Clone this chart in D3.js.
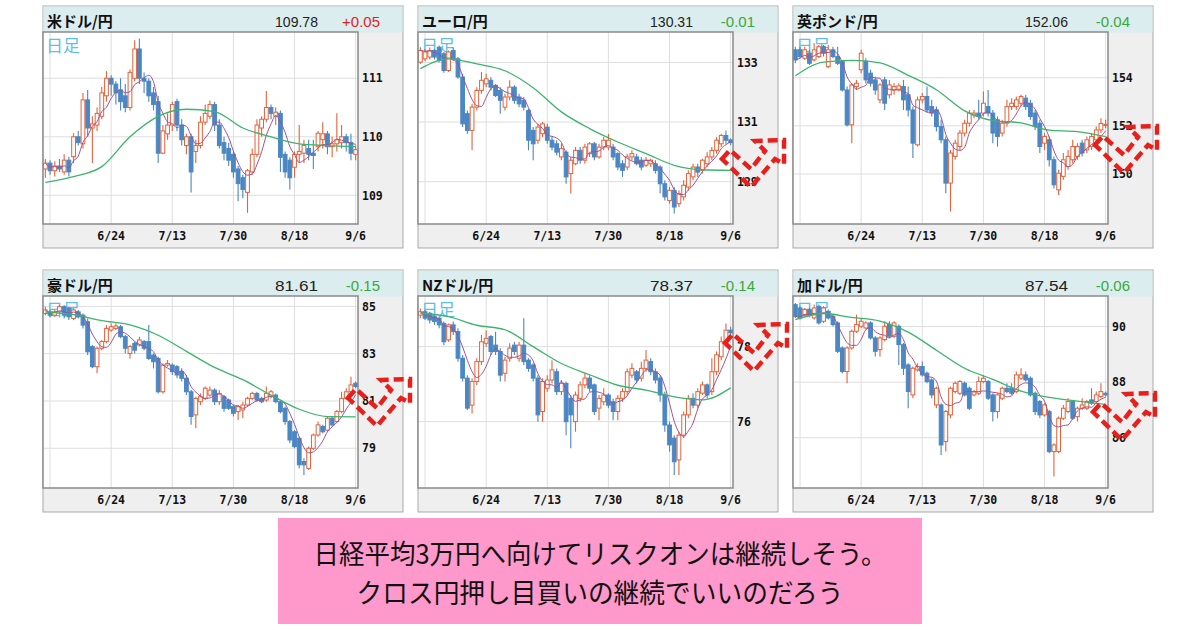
<!DOCTYPE html>
<html>
<head>
<meta charset="utf-8">
<script src="https://cdn.jsdelivr.net/npm/d3@7"></script>
<style>
  body { margin: 0; background: #fff; }
</style>
</head>
<body>
<div id="viz"></div>
<script>
// --- data ----------------------------------------------------------------
const pairNames  = ["米ドル/円", "ユーロ/円", "英ポンド/円", "豪ドル/円", "NZドル/円", "加ドル/円"];
const lastPrices = ["109.78", "130.31", "152.06", "81.61", "78.37", "87.54"];
const changes    = ["+0.05", "-0.01", "-0.04", "-0.15", "-0.14", "-0.06"];
const tickLabels = ["6/24", "7/13", "7/30", "8/18", "9/6"];
const gridDates  = ["6/7", "6/24", "7/13", "7/30", "8/18", "9/6"];
const yTicks  = [[109, 110, 111], [129, 131, 133], [150, 152, 154], [79, 81, 83, 85], [76, 78], [86, 88, 90]];
const yRanges = [[108.51, 111.79], [127.58, 134.02], [147.92, 155.9], [77.32, 85.44], [74.23, 79.35], [84.19, 91.1]];

// daily candles [open, high, low, close], 2021-06-04 .. 2021-09-06
const usdjpy = [
  [109.45,109.62,109.30,109.55],[109.55,109.60,109.35,109.42],[109.42,109.58,109.32,109.50],[109.50,109.62,109.40,109.45],
  [109.40,109.70,109.35,109.60],[109.60,109.66,109.32,109.40],[109.66,110.06,109.55,110.00],[110.00,110.10,109.85,109.90],
  [109.88,110.75,109.80,110.63],[110.63,110.80,110.00,110.15],[110.15,110.35,109.55,110.22],[110.20,110.50,110.10,110.40],
  [110.35,110.85,110.30,110.75],[110.70,111.12,110.60,111.00],[111.00,111.05,110.70,110.90],[110.90,110.95,110.55,110.75],
  [110.80,111.00,110.45,110.60],[110.70,110.90,110.42,110.50],[110.50,111.15,110.45,111.10],[111.00,111.65,110.95,111.50],
  [111.50,111.68,110.90,111.00],[111.00,111.10,110.75,110.95],[110.95,111.00,110.60,110.70],[110.75,110.85,110.45,110.55],
  [110.60,110.70,109.55,109.72],[109.72,110.20,109.70,110.10],[110.05,110.40,109.95,110.20],[110.20,110.60,110.10,110.55],
  [110.60,110.65,110.10,110.20],[110.20,110.30,109.85,109.95],[109.85,110.05,109.70,110.00],[110.00,110.05,109.05,109.40],
  [109.75,109.95,109.55,109.85],[109.85,110.35,109.80,110.25],[110.25,110.55,110.20,110.40],[110.35,110.62,110.30,110.55],
  [110.55,110.60,110.10,110.20],[110.20,110.30,109.80,109.85],[109.90,110.00,109.60,109.72],[109.80,109.90,109.50,109.60],
  [109.70,109.75,109.30,109.40],[109.45,109.50,108.90,109.20],[109.30,109.35,108.95,109.10],[109.05,109.45,108.70,109.42],
  [109.40,109.80,109.35,109.70],[109.70,110.30,109.65,110.20],[110.15,110.35,110.00,110.30],[110.30,110.78,110.25,110.50],
  [110.50,110.55,110.30,110.40],[110.35,110.50,110.20,110.42],[110.40,110.45,109.40,109.65],[109.70,109.75,109.30,109.40],
  [109.60,109.65,109.10,109.30],[109.48,109.75,109.30,109.70],[109.70,110.20,109.55,109.75],[109.72,109.95,109.55,109.85],
  [109.80,109.95,109.60,109.70],[109.72,109.95,109.45,109.68],[109.83,110.10,109.75,110.06],[109.95,110.25,109.80,110.05],
  [110.05,110.10,109.70,109.83],[109.83,110.00,109.65,109.88],[109.88,110.40,109.75,109.95],[109.90,110.20,109.80,110.00],
  [110.00,110.05,109.75,109.90],[109.90,110.05,109.60,109.72],[109.70,109.85,109.60,109.78]
];
const eurjpy = [
  [133.01,133.51,132.95,133.40],[133.12,133.45,133.05,133.35],[133.18,133.50,133.10,133.40],[133.40,133.45,133.10,133.18],
  [133.51,133.57,133.00,133.07],[133.29,133.35,132.65,132.73],[132.73,133.40,132.68,133.35],[133.40,133.51,133.05,133.12],
  [133.12,133.18,132.45,132.51],[132.51,132.62,130.83,130.94],[131.28,131.39,130.61,130.72],[130.72,131.61,130.05,131.50],
  [131.50,132.17,131.39,132.06],[132.06,132.68,131.95,132.40],[132.28,132.62,132.17,132.45],[132.40,132.51,132.06,132.17],
  [132.23,132.28,131.84,131.89],[132.06,132.17,131.28,131.73],[131.50,131.95,131.39,131.84],[131.84,132.40,131.73,132.17],
  [132.17,132.23,131.61,131.73],[131.84,131.95,131.50,131.61],[131.73,131.84,131.39,131.50],[131.39,131.45,130.05,130.39],
  [130.72,130.83,129.72,130.27],[130.39,130.94,130.27,130.83],[130.61,131.00,130.50,130.94],[130.83,130.94,130.27,130.39],
  [130.39,130.50,130.05,130.16],[130.27,130.39,129.88,129.99],[129.83,130.27,129.72,130.11],[129.99,130.05,128.93,129.16],
  [129.27,129.83,128.60,129.72],[129.60,130.16,129.55,130.05],[130.05,130.16,129.60,129.72],[129.72,130.27,129.60,130.16],
  [129.94,130.33,129.83,130.27],[130.27,130.33,129.72,129.83],[129.83,130.27,129.77,130.16],[130.16,130.50,130.05,130.39],
  [130.16,130.60,130.05,130.39],[130.16,130.27,129.72,129.83],[129.94,129.99,129.38,129.49],[129.60,129.72,129.16,129.38],
  [129.49,129.94,129.38,129.83],[129.83,130.05,129.72,129.94],[129.83,129.94,129.55,129.60],[129.72,129.83,129.38,129.49],
  [129.55,129.83,129.49,129.72],[129.60,129.77,129.49,129.72],[129.60,129.72,129.27,129.38],[129.49,129.55,128.60,128.93],
  [128.93,129.05,128.37,128.49],[128.37,128.82,128.26,128.71],[128.71,128.82,127.93,128.15],[128.26,128.71,128.15,128.60],
  [128.49,129.05,128.37,128.88],[128.82,129.38,128.71,129.27],[129.16,129.60,129.05,129.49],[129.49,129.60,129.16,129.32],
  [129.38,129.77,129.27,129.72],[129.60,129.99,129.49,129.83],[129.83,130.16,129.72,130.05],[130.05,130.50,129.94,130.39],
  [130.27,130.61,130.16,130.55],[130.55,130.72,130.27,130.39],[130.40,130.45,130.22,130.31]
];
const gbpjpy = [
  [155.16,155.29,154.60,154.74],[155.16,155.29,154.81,154.88],[154.81,155.29,154.74,155.16],[155.02,155.16,154.53,154.60],
  [154.74,155.43,154.67,155.16],[154.88,155.36,154.81,155.29],[155.29,155.36,154.88,155.02],[154.46,155.36,154.39,155.16],
  [155.16,155.29,154.81,154.88],[154.88,155.29,154.53,154.60],[154.67,154.74,153.43,153.49],[153.49,153.63,151.97,152.04],
  [152.04,153.77,151.28,153.70],[153.63,153.91,153.49,153.77],[154.33,155.16,154.19,155.02],[154.67,154.81,153.77,153.91],
  [154.19,154.33,153.63,153.77],[153.91,154.04,153.29,153.49],[153.08,153.77,152.94,153.70],[153.91,154.04,152.66,152.94],
  [153.29,153.91,153.15,153.70],[153.49,153.77,153.29,153.63],[153.49,153.77,153.43,153.66],[153.63,153.91,152.66,153.08],
  [153.29,153.63,152.39,152.66],[152.66,152.80,150.66,151.28],[151.21,153.22,151.14,153.08],[153.08,153.36,152.94,153.22],
  [153.22,153.63,152.53,152.66],[152.80,153.08,152.39,152.53],[152.66,152.80,151.76,151.97],[151.97,152.25,151.28,151.42],
  [151.42,151.56,149.20,149.62],[149.62,151.00,148.44,150.87],[150.73,151.42,150.59,151.28],[151.14,151.83,151.00,151.70],
  [151.70,152.25,151.56,152.11],[152.11,152.66,151.97,152.53],[152.46,152.66,152.32,152.53],[152.53,153.08,152.25,152.39],
  [152.53,153.43,152.39,152.94],[152.80,153.49,152.39,152.53],[152.53,152.66,151.28,151.70],[152.25,152.39,151.14,151.56],
  [151.70,152.25,151.56,152.11],[152.11,153.08,151.97,152.80],[152.80,153.15,152.66,152.94],[152.80,153.22,152.66,153.08],
  [152.94,153.29,152.80,153.22],[153.15,153.29,152.66,152.80],[152.94,153.08,152.25,152.39],[152.53,152.66,151.83,151.97],
  [152.11,152.25,150.87,151.14],[151.28,151.70,151.00,151.56],[151.42,151.56,150.31,150.59],[150.59,150.73,149.40,149.55],
  [149.34,150.17,149.13,150.03],[149.90,150.87,149.76,150.59],[150.31,151.00,150.17,150.73],[150.59,151.42,150.45,151.14],
  [150.73,151.28,150.59,151.14],[151.28,151.42,150.73,150.87],[151.00,151.56,150.87,151.42],[151.14,151.70,151.00,151.56],
  [151.42,151.97,151.28,151.83],[151.83,152.32,151.70,152.10],[152.03,152.25,151.90,152.06]
];
const audjpy = [
  [84.70,84.99,84.63,84.85],[84.77,84.85,84.56,84.63],[84.63,84.85,84.56,84.77],[84.77,85.06,84.70,84.99],
  [84.99,85.06,84.49,84.63],[84.92,84.99,84.42,84.56],[84.49,84.92,84.42,84.85],[84.77,84.85,84.49,84.56],
  [84.63,84.70,84.07,84.21],[84.35,84.49,82.94,83.08],[83.30,83.37,82.38,82.45],[82.45,83.30,82.17,83.23],
  [83.23,83.58,83.15,83.51],[83.51,84.21,83.44,84.07],[84.00,84.28,83.93,84.14],[84.07,84.28,84.00,84.17],
  [84.14,84.21,83.65,83.72],[83.72,83.79,83.01,83.23],[83.01,83.37,82.80,83.30],[83.44,83.51,83.01,83.15],
  [83.37,83.72,83.30,83.58],[83.51,83.58,83.15,83.23],[83.51,84.21,82.73,82.80],[82.94,83.01,82.38,82.66],
  [82.80,82.87,81.32,81.39],[81.39,82.59,81.32,82.52],[82.52,82.73,82.45,82.59],[82.52,82.59,82.10,82.24],
  [82.45,82.52,81.96,82.10],[82.24,82.38,81.82,81.96],[81.96,82.10,81.25,81.39],[81.39,81.46,79.99,80.34],
  [80.41,81.18,79.85,81.11],[80.97,81.32,80.83,81.18],[81.11,81.61,81.04,81.54],[81.25,81.61,81.18,81.46],
  [81.46,81.54,80.83,80.97],[80.97,81.46,80.83,81.32],[81.18,81.25,80.55,80.69],[81.04,81.11,80.62,80.69],
  [80.76,80.83,80.34,80.48],[80.55,80.83,80.20,80.76],[80.62,80.97,80.27,80.83],[80.83,81.18,80.76,81.11],
  [81.11,81.39,81.04,81.32],[81.32,81.39,80.97,81.04],[81.11,81.18,80.90,80.97],[81.04,81.61,80.97,81.32],
  [81.18,81.46,81.11,81.39],[81.25,81.32,80.90,80.97],[80.97,81.04,80.48,80.55],[80.69,80.76,79.99,80.13],
  [80.13,80.20,79.21,79.35],[79.70,79.77,79.00,79.07],[79.42,79.49,78.15,78.30],[78.44,78.58,77.87,78.30],
  [78.15,79.07,78.08,79.00],[79.00,79.63,78.93,79.56],[79.56,80.13,79.49,79.99],[79.92,79.99,79.63,79.70],
  [79.77,80.34,79.70,80.27],[80.27,80.34,79.92,79.99],[80.13,80.62,80.06,80.55],[80.55,81.39,80.48,81.11],
  [81.11,81.54,81.04,81.39],[81.39,82.03,81.32,81.68],[81.75,81.82,81.54,81.61]
];
const nzdjpy = [
  [78.84,79.02,78.76,78.93],[78.93,78.98,78.71,78.76],[78.89,78.93,78.62,78.71],[78.80,78.84,78.58,78.67],
  [78.76,78.80,78.49,78.58],[78.62,78.67,78.04,78.13],[78.18,78.62,78.13,78.58],[78.58,78.67,78.31,78.40],
  [78.40,78.49,77.60,77.69],[77.69,77.78,77.07,77.16],[77.16,77.24,76.31,76.36],[76.44,77.16,76.22,77.07],
  [77.07,77.69,76.98,77.60],[77.60,78.31,77.51,78.13],[78.09,78.44,78.00,78.22],[78.27,78.31,77.78,77.87],
  [78.04,78.40,77.78,77.87],[77.87,77.96,77.07,77.24],[77.29,77.73,77.07,77.64],[77.69,78.09,77.60,77.96],
  [78.04,78.13,77.78,77.87],[77.69,78.13,77.60,78.04],[78.04,78.76,77.51,77.60],[77.64,77.69,77.33,77.42],
  [77.51,77.56,77.07,77.16],[77.16,77.24,76.00,76.18],[76.27,77.16,76.00,77.07],[76.89,77.24,76.80,77.11],
  [77.11,77.64,77.02,77.38],[77.33,77.42,76.71,76.80],[76.80,77.11,76.71,77.02],[77.02,77.07,75.64,76.00],
  [76.62,76.71,75.29,76.18],[76.00,76.80,75.73,76.71],[76.62,77.07,76.53,76.98],[76.98,77.29,76.89,77.16],
  [77.16,77.24,76.80,76.89],[76.98,77.02,76.18,76.27],[76.36,76.71,76.04,76.62],[76.53,76.89,76.44,76.71],
  [76.71,76.76,76.36,76.44],[76.53,76.62,76.04,76.27],[76.27,76.71,76.04,76.62],[76.62,76.89,76.53,76.80],
  [76.80,77.42,76.71,77.33],[77.24,77.56,77.16,77.42],[77.33,77.38,77.02,77.11],[77.16,77.60,77.07,77.42],
  [77.42,77.91,77.33,77.64],[77.60,77.69,77.24,77.33],[77.33,77.42,77.02,77.11],[77.16,77.24,76.53,76.71],
  [76.71,76.80,75.73,75.91],[75.91,76.00,75.20,75.38],[75.56,75.64,74.58,74.93],[74.98,75.73,74.58,75.64],
  [75.64,76.27,75.56,76.18],[76.18,76.71,76.09,76.62],[76.62,76.76,76.36,76.44],[76.44,76.89,76.36,76.80],
  [76.76,77.07,76.71,76.98],[76.98,77.02,76.62,76.71],[76.80,77.69,76.71,77.33],[77.33,77.87,77.24,77.78],
  [77.73,78.27,77.64,78.13],[78.09,78.62,78.00,78.44],[78.44,78.53,78.31,78.37]
];
const cadjpy = [
  [90.79,90.85,90.31,90.37],[90.67,90.73,90.25,90.31],[90.43,90.67,90.37,90.61],[90.61,90.67,90.37,90.43],
  [90.31,90.79,90.25,90.67],[90.73,90.79,90.07,90.13],[90.19,90.73,90.13,90.67],[90.55,90.61,90.25,90.31],
  [90.37,90.43,90.01,90.07],[90.13,90.19,89.05,89.11],[89.23,89.29,88.32,88.38],[88.38,89.29,87.96,89.23],
  [89.23,89.89,89.17,89.83],[89.83,90.43,89.77,90.07],[90.01,90.31,89.95,90.19],[89.95,90.19,89.89,90.13],
  [90.13,90.19,89.53,89.59],[89.59,89.65,88.92,89.11],[89.17,89.65,88.92,89.59],[89.53,90.19,89.47,90.01],
  [90.07,90.19,89.59,89.65],[89.65,90.19,89.59,90.13],[90.01,90.07,88.62,89.35],[89.35,89.41,88.26,88.50],
  [88.62,88.68,87.06,87.66],[87.54,88.56,87.42,88.50],[88.44,88.68,88.38,88.56],[88.56,88.74,88.20,88.26],
  [88.32,88.38,87.96,88.02],[88.08,88.14,87.42,87.54],[87.18,87.84,87.06,87.78],[87.18,87.24,85.38,85.74],
  [85.86,87.00,85.50,86.94],[86.82,87.84,86.70,87.78],[87.66,88.02,87.60,87.96],[87.60,88.08,87.54,88.02],
  [87.96,88.02,87.48,87.54],[87.78,87.84,87.00,87.06],[87.54,87.72,87.48,87.66],[87.60,88.20,87.54,88.02],
  [88.02,88.26,87.96,88.14],[88.02,88.08,87.36,87.42],[87.54,87.60,86.58,86.94],[86.94,87.60,86.70,87.54],
  [87.42,87.84,87.36,87.78],[87.78,87.96,87.60,87.66],[87.78,87.96,87.54,87.60],[87.66,88.38,87.60,88.26],
  [88.14,88.50,88.08,88.26],[88.26,88.38,88.02,88.08],[88.14,88.20,87.48,87.54],[87.60,87.66,86.82,86.94],
  [87.30,87.36,86.70,86.82],[86.82,87.24,86.76,87.18],[86.94,87.00,85.44,85.50],[85.50,85.80,84.60,85.74],
  [85.50,86.76,85.44,86.70],[86.70,87.18,86.64,87.06],[86.94,87.42,86.88,87.30],[87.30,87.36,86.64,86.70],
  [86.76,87.12,86.58,87.06],[87.06,87.42,87.00,87.18],[87.06,87.36,87.00,87.30],[87.36,87.78,87.18,87.24],
  [87.30,87.66,87.24,87.54],[87.48,87.96,87.42,87.66],[87.60,87.66,87.48,87.54]
];

// longer moving average (green), read every 6th trading day
const usdjpyMa = [109.22,109.32,109.49,110.00,110.35,110.47,110.43,110.15,110.00,109.88,109.85,109.83];
const eurjpyMa = [132.79,133.12,132.95,132.72,132.15,131.34,130.78,130.33,129.94,129.55,129.40,129.38];
const gbpjpyMa = [154.08,154.65,154.72,154.62,154.10,153.50,152.62,152.22,152.12,151.82,151.76,151.55];
const audjpyMa = [84.77,84.65,84.40,84.22,83.78,83.10,82.42,81.90,81.25,80.65,80.34,80.33];
const nzdjpyMa = [78.89,78.80,78.57,78.45,78.00,77.55,77.25,76.97,76.84,76.66,76.58,76.90];
const cadjpyMa = [90.25,90.47,90.33,90.20,89.80,89.15,88.50,88.10,87.68,87.45,87.32,87.20];

const candleSets = [usdjpy, eurjpy, gbpjpy, audjpy, nzdjpy, cadjpy];
const maSets = [usdjpyMa, eurjpyMa, gbpjpyMa, audjpyMa, nzdjpyMa, cadjpyMa];
const maStep = 6;

const caption = ["日経平均3万円へ向けてリスクオンは継続しそう。", "クロス円押し目買いの継続でいいのだろう"];

// --- layout ---------------------------------------------------------------
const panelX = [43, 418, 793];
const panelY = [6, 270];
const W = 360, H = 242, titleH = 26, plotW = 315, plotH = 192;
const arrowAt = [null, [722, 138], [1095, 124], [348, 377], [725, 322], [1093, 391]];
const arrowShape = [[0,21],[8,12],[29,31],[43,13],[33,3],[62,2],[62,26],[53,21],[29,49]];

const upColor = "#e5623a", downColor = "#4a87c4";
const monoFont = "'DejaVu Sans Mono', monospace";
const jpFont = "'Noto Sans CJK JP', sans-serif";

const svg = d3.select("#viz").append("svg")
    .attr("width", 1200)
    .attr("height", 630);

const fmt = d3.timeFormat("%-m/%-d");
const dates = d3.timeDay.range(new Date(2021, 5, 4), new Date(2021, 8, 7))
    .filter(d => d.getDay() % 6 !== 0)
    .map(fmt);

const x = d3.scaleBand().domain(dates).range([0, plotW]);
const cx = k => x(k) + x.bandwidth() / 2;
const bodyW = x.bandwidth() * 0.8;

candleSets.forEach((candles, i) => {
    const g = svg.append("g")
        .attr("transform", `translate(${panelX[i % 3]},${panelY[Math.floor(i / 3)]})`);

    const y = d3.scaleLinear().domain(yRanges[i]).range([titleH + plotH, titleH]);

    // frame
    g.append("rect").attr("width", W).attr("height", H)
        .attr("fill", "#efefef").attr("stroke", "#a9a9a9");
    g.append("rect").attr("x", 0.5).attr("y", 0.5).attr("width", W - 1).attr("height", titleH)
        .attr("fill", "#dcedef");
    g.append("rect").attr("y", titleH).attr("width", plotW).attr("height", plotH)
        .attr("fill", "#fff");

    // header
    g.append("text").attr("x", 4).attr("y", 21)
        .attr("font-family", jpFont).attr("font-weight", "bold").attr("font-size", 15)
        .attr("fill", "#111").text(pairNames[i]);
    g.append("text").attr("x", 275).attr("y", 21).attr("text-anchor", "end")
        .attr("font-family", "'Liberation Sans', Arial, sans-serif").attr("font-size", 15)
        .attr("textLength", 43).attr("lengthAdjust", "spacingAndGlyphs")
        .attr("fill", "#222").text(lastPrices[i]);
    g.append("text").attr("x", 337).attr("y", 21).attr("text-anchor", "end")
        .attr("font-family", "'Liberation Sans', Arial, sans-serif").attr("font-size", 15)
        .attr("fill", changes[i].startsWith("+") ? "#e3211f" : "#3aa83a").text(changes[i]);

    // grid
    g.append("g").selectAll("line").data(yTicks[i]).join("line")
        .attr("x1", 0).attr("x2", plotW)
        .attr("y1", d => y(d)).attr("y2", d => y(d))
        .attr("stroke", "#dedede");
    g.append("g").selectAll("line").data(gridDates).join("line")
        .attr("x1", d => cx(d)).attr("x2", d => cx(d))
        .attr("y1", titleH).attr("y2", titleH + plotH)
        .attr("stroke", "#dedede");

    g.append("text").attr("x", 3).attr("y", titleH + 20)
        .attr("font-family", jpFont).attr("font-size", 17)
        .attr("fill", "#5cc0e8").text("日足");

    // axes
    const yAxis = g.append("g").attr("transform", `translate(${plotW},0)`)
        .call(d3.axisRight(y).tickValues(yTicks[i]).tickSize(0).tickPadding(4).tickFormat(d3.format("d")));
    yAxis.select(".domain").remove();
    yAxis.selectAll("text").attr("font-family", monoFont).attr("font-weight", "bold")
        .attr("font-size", 11.5).attr("fill", "#111");

    const xAxis = g.append("g").attr("transform", `translate(0,${titleH + plotH})`)
        .call(d3.axisBottom(x).tickValues(tickLabels).tickSize(0).tickPadding(8));
    xAxis.select(".domain").remove();
    xAxis.selectAll("text").attr("font-family", monoFont).attr("font-weight", "bold")
        .attr("font-size", 11.5).attr("fill", "#111");

    // candles
    const clipId = "clip" + i;
    g.append("clipPath").attr("id", clipId)
        .append("rect").attr("y", titleH).attr("width", plotW).attr("height", plotH);
    const plot = g.append("g").attr("clip-path", `url(#${clipId})`);

    const rows = candles.map((c, j) => ({ key: dates[j], o: c[0], h: c[1], l: c[2], c: c[3] }));
    const col = d => d.c >= d.o ? upColor : downColor;

    plot.append("g").selectAll("line").data(rows).join("line")
        .attr("x1", d => cx(d.key)).attr("x2", d => cx(d.key))
        .attr("y1", d => y(d.h)).attr("y2", d => y(d.l))
        .attr("stroke", col).attr("stroke-width", 1.1);

    plot.append("g").selectAll("rect").data(rows).join("rect")
        .attr("x", d => cx(d.key) - bodyW / 2)
        .attr("width", bodyW)
        .attr("y", d => y(Math.max(d.o, d.c)))
        .attr("height", d => Math.max(1, Math.abs(y(d.o) - y(d.c))))
        .attr("fill", d => d.c >= d.o ? "#fff" : downColor)
        .attr("stroke", col).attr("stroke-width", 1);

    // short moving average of closes (purple)
    const closes = candles.map(c => c[3]);
    const ma5 = closes.map((_, j) => d3.mean(closes.slice(Math.max(0, j - 4), j + 1)));
    plot.append("path")
        .datum(ma5)
        .attr("fill", "none").attr("stroke", "#a4508f").attr("stroke-width", 1)
        .attr("d", d3.line().x((d, j) => cx(dates[j])).y(d => y(d)).curve(d3.curveMonotoneX));

    // long moving average (green)
    plot.append("path")
        .datum(maSets[i])
        .attr("fill", "none").attr("stroke", "#3cb46c").attr("stroke-width", 1.3)
        .attr("d", d3.line().x((d, k) => cx(dates[k * maStep])).y(d => y(d)).curve(d3.curveMonotoneX));

    g.append("rect").attr("y", titleH).attr("width", plotW).attr("height", plotH)
        .attr("fill", "none").attr("stroke", "#8a8a8a").attr("stroke-width", 1.5);
});

// dashed "rebound" arrows
const arrowLine = d3.line().curve(d3.curveLinearClosed);
arrowAt.forEach(p => {
    if (!p) return;
    svg.append("path")
        .attr("transform", `translate(${p[0]},${p[1]})`)
        .attr("d", arrowLine(arrowShape))
        .attr("fill", "none")
        .attr("stroke", "#e8201c")
        .attr("stroke-width", 4.5)
        .attr("stroke-dasharray", "10,5");
});

// caption box
svg.append("rect")
    .attr("x", 278).attr("y", 518).attr("width", 644).attr("height", 106)
    .attr("fill", "#ff99cc");
const capWidths = [573, 487];
svg.append("g").selectAll("text").data(caption).join("text")
    .attr("x", 600)
    .attr("y", (d, k) => 564 + k * 39)
    .attr("text-anchor", "middle")
    .attr("font-family", jpFont)
    .attr("font-size", 27)
    .attr("fill", "#111")
    .attr("textLength", (d, k) => capWidths[k])
    .attr("lengthAdjust", "spacingAndGlyphs")
    .text(d => d);
</script>
</body>
</html>
